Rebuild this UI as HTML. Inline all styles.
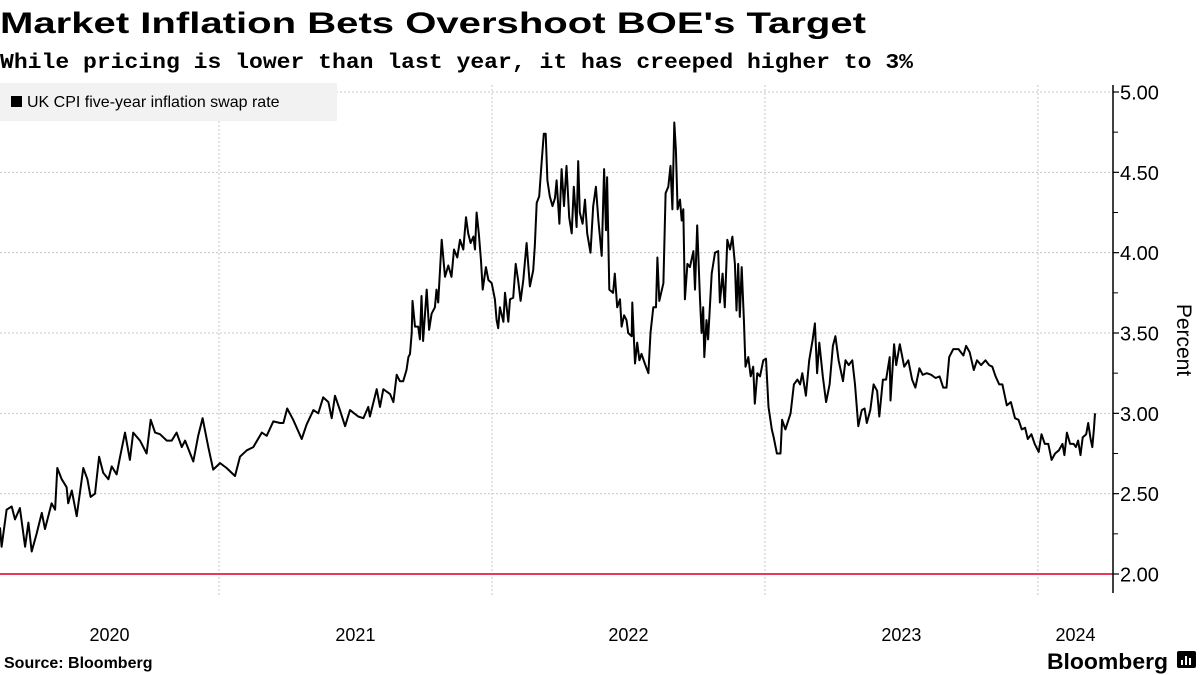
<!DOCTYPE html>
<html><head><meta charset="utf-8"><style>
html,body{margin:0;padding:0;background:#fff;width:1200px;height:675px;overflow:hidden}
svg{display:block;font-family:"Liberation Sans",sans-serif}
</style></head><body>
<svg id="chart" width="1200" height="675" viewBox="0 0 1200 675">
<text x="0" y="33" font-size="30" font-weight="bold" fill="#000" textLength="866" lengthAdjust="spacingAndGlyphs">Market Inflation Bets Overshoot BOE's Target</text>
<text x="0" y="68" font-size="21" font-weight="bold" fill="#000" font-family="Liberation Mono, monospace" textLength="913" lengthAdjust="spacingAndGlyphs">While pricing is lower than last year, it has creeped higher to 3%</text>
<g id="grid"></g>
<line x1="0" y1="574" x2="1113" y2="574" stroke="#e8395a" stroke-width="2"/>
<path id="series" fill="none" stroke="#000" stroke-width="2" stroke-linejoin="round"/>
<g id="axis"></g>
<g id="xlabels"></g>
<g>
<rect x="0" y="83" width="337" height="38" fill="#f2f2f2"/>
<rect x="11" y="96" width="11" height="11" fill="#000"/>
<text x="27" y="107" font-size="16" fill="#000">UK CPI five-year inflation swap rate</text>
</g>
<text transform="translate(1177,340) rotate(90)" text-anchor="middle" font-size="21" fill="#000">Percent</text>
<text x="4" y="668" font-size="16" font-weight="bold" fill="#000">Source: Bloomberg</text>
<text x="1047" y="669" font-size="22" font-weight="bold" fill="#000" textLength="121" lengthAdjust="spacingAndGlyphs">Bloomberg</text>
<g><rect x="1177" y="651" width="19" height="17" rx="2" fill="#000"/><rect x="1181" y="660" width="2" height="5" fill="#fff"/><rect x="1185" y="656" width="2" height="9" fill="#fff"/><rect x="1189" y="658" width="2" height="7" fill="#fff"/></g>
</svg>
<script>
const dates=[2020.198,2020.204,2020.222,2020.241,2020.253,2020.271,2020.290,2020.302,2020.314,2020.332,2020.351,2020.363,2020.387,2020.400,2020.408,2020.424,2020.442,2020.448,2020.461,2020.479,2020.503,2020.518,2020.530,2020.546,2020.561,2020.576,2020.595,2020.607,2020.625,2020.638,2020.656,2020.674,2020.686,2020.711,2020.735,2020.750,2020.766,2020.784,2020.809,2020.827,2020.845,2020.864,2020.876,2020.906,2020.924,2020.940,2020.961,2020.979,2021.004,2021.028,2021.059,2021.077,2021.102,2021.126,2021.157,2021.175,2021.199,2021.224,2021.236,2021.250,2021.272,2021.303,2021.321,2021.346,2021.364,2021.382,2021.401,2021.413,2021.425,2021.443,2021.462,2021.480,2021.510,2021.529,2021.547,2021.553,2021.578,2021.590,2021.602,2021.627,2021.639,2021.651,
2021.663,2021.675,2021.687,2021.694,2021.700,2021.706,2021.709,2021.718,2021.730,2021.736,2021.742,2021.748,2021.761,2021.770,2021.779,2021.791,2021.797,2021.803,2021.816,2021.828,2021.840,2021.852,2021.861,2021.873,2021.883,2021.895,2021.905,2021.913,2021.922,2021.932,2021.938,2021.944,2021.952,2021.960,2021.966,2021.978,2021.987,2021.999,2022.011,2022.017,2022.023,2022.029,2022.042,2022.048,2022.060,2022.066,2022.078,2022.087,2022.096,2022.105,2022.115,2022.127,2022.139,2022.151,2022.157,2022.164,2022.173,2022.182,2022.190,2022.197,2022.203,2022.212,2022.222,2022.231,2022.237,2022.247,2022.255,2022.264,2022.273,2022.283,2022.292,2022.300,2022.310,2022.316,2022.322,2022.332,2022.341,2022.349,2022.361,2022.371,2022.381,2022.390,2022.402,2022.411,2022.418,2022.422,2022.430,2022.444,2022.450,2022.459,2022.469,2022.475,2022.484,2022.493,2022.499,2022.512,2022.514,2022.524,2022.532,2022.540,2022.548,2022.560,2022.573,2022.581,2022.591,2022.601,2022.606,2022.613,2022.628,2022.636,2022.646,2022.654,2022.661,2022.668,2022.674,2022.680,2022.689,2022.695,2022.701,2022.707,2022.716,2022.725,2022.738,2022.744,2022.752,2022.762,2022.768,2022.774,2022.778,2022.786,2022.792,2022.805,2022.817,2022.829,2022.835,2022.845,2022.853,2022.862,2022.872,2022.881,2022.890,2022.896,2022.902,2022.908,2022.915,2022.923,2022.929,2022.939,2022.948,2022.957,2022.963,2022.972,2022.982,
2022.994,2023.004,2023.013,2023.025,2023.032,2023.044,2023.057,2023.063,2023.075,2023.094,2023.106,2023.119,2023.129,2023.137,2023.150,2023.162,2023.175,2023.183,2023.191,2023.199,2023.212,2023.224,2023.237,2023.249,2023.258,2023.270,2023.286,2023.295,2023.307,2023.320,2023.330,2023.342,2023.355,2023.365,2023.373,2023.386,2023.398,2023.411,2023.419,2023.432,2023.444,2023.457,2023.460,2023.473,2023.481,2023.494,2023.510,2023.525,2023.539,2023.551,2023.566,2023.578,2023.593,2023.609,2023.625,2023.640,2023.653,2023.665,2023.675,2023.690,2023.709,2023.727,2023.737,2023.750,2023.765,2023.777,2023.792,2023.808,2023.821,2023.833,2023.845,2023.858,2023.870,2023.886,2023.901,2023.916,2023.929,2023.941,2023.953,2023.963,2023.976,2023.988,2024.003,2024.013,2024.025,2024.038,2024.050,2024.063,2024.077,2024.090,2024.097,2024.106,2024.118,2024.131,2024.139,2024.147,2024.156,2024.164,2024.177,2024.184,2024.193,2024.199,2024.205,2024.209];
const values=[2.29,2.17,2.40,2.42,2.34,2.41,2.17,2.32,2.14,2.25,2.38,2.28,2.44,2.40,2.66,2.59,2.54,2.44,2.52,2.36,2.66,2.59,2.48,2.50,2.73,2.63,2.59,2.67,2.62,2.73,2.88,2.71,2.88,2.83,2.75,2.96,2.88,2.87,2.83,2.83,2.88,2.79,2.83,2.70,2.86,2.97,2.79,2.65,2.69,2.66,2.61,2.73,2.77,2.79,2.88,2.86,2.95,2.94,2.94,3.03,2.96,2.84,2.93,3.02,3.00,3.10,3.07,2.97,3.11,3.02,2.92,3.02,2.98,2.97,3.04,2.98,3.15,3.04,3.15,3.12,3.07,3.24,
3.20,3.20,3.27,3.35,3.37,3.50,3.70,3.54,3.54,3.46,3.73,3.45,3.77,3.52,3.62,3.66,3.77,3.69,4.08,3.85,3.92,3.85,4.02,3.97,4.08,4.02,4.22,4.12,4.06,4.10,4.02,4.25,4.12,3.95,3.77,3.91,3.83,3.81,3.71,3.58,3.53,3.66,3.57,3.75,3.57,3.71,3.72,3.93,3.83,3.70,3.83,4.06,3.79,3.89,4.04,4.31,4.35,4.56,4.74,4.74,4.45,4.35,4.29,4.34,4.45,4.18,4.52,4.29,4.54,4.22,4.12,4.41,4.16,4.57,4.25,4.18,4.33,4.12,4.00,4.29,4.41,4.20,3.98,4.52,4.14,4.47,3.77,3.75,3.87,3.66,3.71,3.54,3.61,3.58,3.50,3.48,3.69,3.31,3.44,3.33,3.37,3.31,3.25,3.50,3.66,3.66,3.97,3.70,3.81,4.37,4.41,4.54,4.27,4.81,4.64,4.27,4.33,4.20,4.27,3.71,3.93,3.91,4.01,3.77,4.17,3.71,3.50,3.66,3.35,3.58,3.46,3.87,4.00,4.01,3.69,3.87,3.66,4.08,4.02,4.10,3.93,3.64,3.93,3.60,3.91,3.58,3.29,3.35,3.23,3.29,3.06,3.25,3.23,
3.33,3.34,3.04,2.90,2.85,2.75,2.75,2.96,2.90,3.00,3.18,3.21,3.18,3.25,3.11,3.33,3.46,3.56,3.25,3.44,3.23,3.07,3.18,3.42,3.48,3.33,3.20,3.33,3.30,3.33,3.18,2.92,3.02,3.03,2.94,3.02,3.18,3.14,2.98,3.21,3.21,3.35,3.08,3.43,3.30,3.43,3.29,3.33,3.21,3.16,3.28,3.24,3.25,3.24,3.22,3.23,3.16,3.16,3.35,3.40,3.40,3.36,3.42,3.38,3.27,3.33,3.30,3.33,3.30,3.29,3.23,3.18,3.18,3.05,3.07,2.97,2.96,2.90,2.91,2.84,2.87,2.81,2.76,2.87,2.81,2.81,2.71,2.75,2.77,2.81,2.74,2.88,2.81,2.81,2.79,2.83,2.74,2.85,2.87,2.94,2.84,2.79,2.90,3.00];
const yTicks=[2.00,2.50,3.00,3.50,4.00,4.50,5.00];
const yearLabels=["2020","2021","2022","2023","2024"];
const yearStarts=[2020,2021,2022,2023,2024];

const X0=0,X1=1113,T0=2020.198,T1=2024.275;
const Y0=574,Y1=92,V0=2,V1=5;
function xs(t){return X0+(t-T0)/(T1-T0)*(X1-X0);}
function ys(v){return Y0+(v-V0)/(V1-V0)*(Y1-Y0);}
const NS="http://www.w3.org/2000/svg";
function mk(tag,attrs,parent){const e=document.createElementNS(NS,tag);for(const k in attrs)e.setAttribute(k,attrs[k]);parent.appendChild(e);return e;}
const grid=document.getElementById('grid'),axis=document.getElementById('axis'),xl=document.getElementById('xlabels');
yTicks.forEach(v=>{
  if(v!==2){const g=mk('line',{x1:0,x2:X1,y1:ys(v),y2:ys(v),stroke:'#c8c8c8','stroke-width':1,'stroke-dasharray':'2,2'},grid);
  
  }
  const tk=mk('line',{x1:X1,x2:X1+6,y1:ys(v),y2:ys(v),stroke:'#000','stroke-width':1.2},axis);
  
  
  const lb=mk('text',{x:X1+7,y:ys(v)+7.5,'font-size':20,fill:'#000'},axis);
  lb.textContent=v.toFixed(2);
  
  
});
for(let i=0;i<yTicks.length-1;i++){const v=(yTicks[i]+yTicks[i+1])/2;
  const m=mk('line',{x1:X1,x2:X1+5,y1:ys(v),y2:ys(v),stroke:'#000','stroke-width':1},axis);
  
  }
const al=mk('line',{x1:X1,x2:X1,y1:85,y2:593,stroke:'#000','stroke-width':1.5},axis);


yearStarts.forEach((yr,i)=>{
  const a=Math.max(xs(yr),X0),b=Math.min(xs(yr+1),X1);
  if(yr>T0){const g=mk('line',{x1:xs(yr),x2:xs(yr),y1:85,y2:595,stroke:'#c8c8c8','stroke-width':1,'stroke-dasharray':'2,2'},grid);
  
  }
  const t=mk('text',{x:(a+b)/2,y:641,'font-size':18,'text-anchor':'middle',fill:'#000'},xl);
  t.textContent=yearLabels[i];
  
  
});
let d='';dates.forEach((t,i)=>{d+=(i?'L':'M')+xs(t).toFixed(1)+','+ys(values[i]).toFixed(1);});
document.getElementById('series').setAttribute('d',d);
</script>
</body></html>
